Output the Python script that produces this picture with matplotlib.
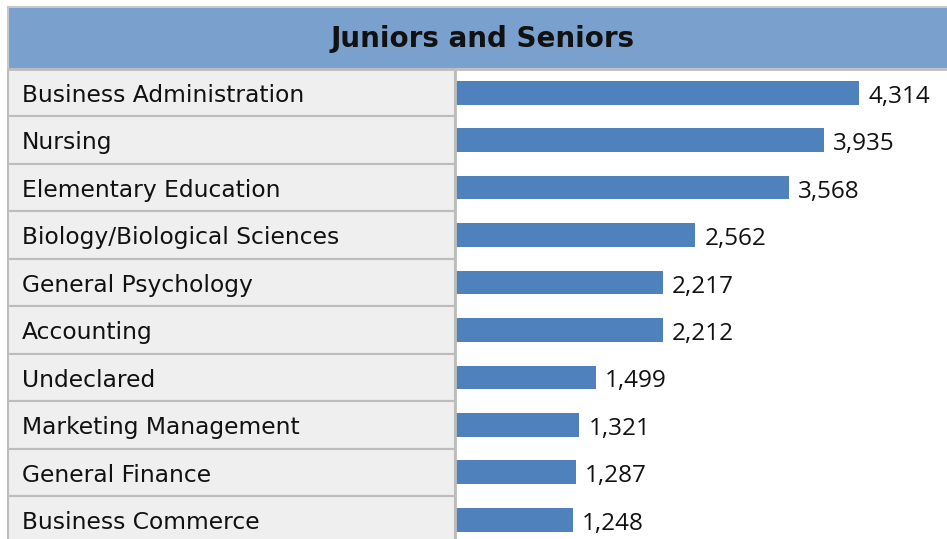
import matplotlib
matplotlib.use("Agg")
import matplotlib.pyplot as plt
from matplotlib.patches import Rectangle

categories = ["Business Administration", "Nursing", "Elementary Education",
              "Biology/Biological Sciences", "General Psychology", "Accounting",
              "Undeclared", "Marketing Management", "General Finance", "Business Commerce"]
values = [4314, 3935, 3568, 2562, 2217, 2212, 1499, 1321, 1287, 1248]
title = "Juniors and Seniors"

W, H = 947, 539
fig = plt.figure(figsize=(W / 100, H / 100), dpi=100)
fig.patch.set_facecolor("white")

def fx(px):
    return px / W

def fy(py):
    return 1 - py / H

row_top = 69
row_h = 47.45
left_x = 8
split_x = 455
border = "#bdbdbd"

# title band
fig.patches.append(Rectangle((fx(left_x), fy(68)), fx(W - left_x), 60 / H,
                             transform=fig.transFigure, facecolor="#7aa0cd",
                             edgecolor="none", zorder=0))
fig.add_artist(plt.Line2D([fx(left_x), 1], [fy(7), fy(7)], color="#c8c8c8", lw=1.5))
fig.add_artist(plt.Line2D([fx(left_x), fx(left_x)], [fy(7), fy(68)], color="#c8c8c8", lw=1.5))
fig.add_artist(plt.Line2D([fx(left_x), 1], [fy(68.5), fy(68.5)], color=border, lw=2))
fig.text(fx(483), fy(47), title, ha="center", va="baseline", fontsize=20,
         fontweight="bold", family="DejaVu Sans", color="#111111")

# table cells
for i, cat in enumerate(categories):
    top = row_top + i * row_h
    fig.patches.append(Rectangle((fx(left_x), fy(top + row_h)), fx(split_x - left_x), row_h / H,
                                 transform=fig.transFigure, facecolor="#efefef",
                                 edgecolor=border, lw=1.5, zorder=1))
    fig.text(fx(22), fy(top + 33), cat, ha="left", va="baseline",
             fontsize=16.8, family="DejaVu Sans", color="#111111", zorder=3)

fig.add_artist(plt.Line2D([fx(split_x), fx(split_x)], [fy(row_top), 0], color=border, lw=2, zorder=4))

# bar axes
scale = (858 - split_x) / values[0]
ax = fig.add_axes([fx(split_x + 1), 0, fx(W - split_x - 1), fy(row_top)])
ax.set_facecolor("none")
n_rows_visible = (H - row_top) / row_h
ax.set_ylim(-0.5 + n_rows_visible, -0.5)
ax.set_xlim(0, (W - split_x - 1) / scale)
ys = list(range(len(categories)))
ax.barh(ys, values, height=23.7 / row_h, color="#4f81bd", zorder=2)
for y, v in zip(ys, values):
    ax.annotate(f"{v:,}", (v, y), xytext=(9, -10), textcoords="offset pixels",
                ha="left", va="baseline", fontsize=17.5, family="Open Sans", color="#111111")
ax.axis("off")

fig.savefig("out.png", dpi=100)
